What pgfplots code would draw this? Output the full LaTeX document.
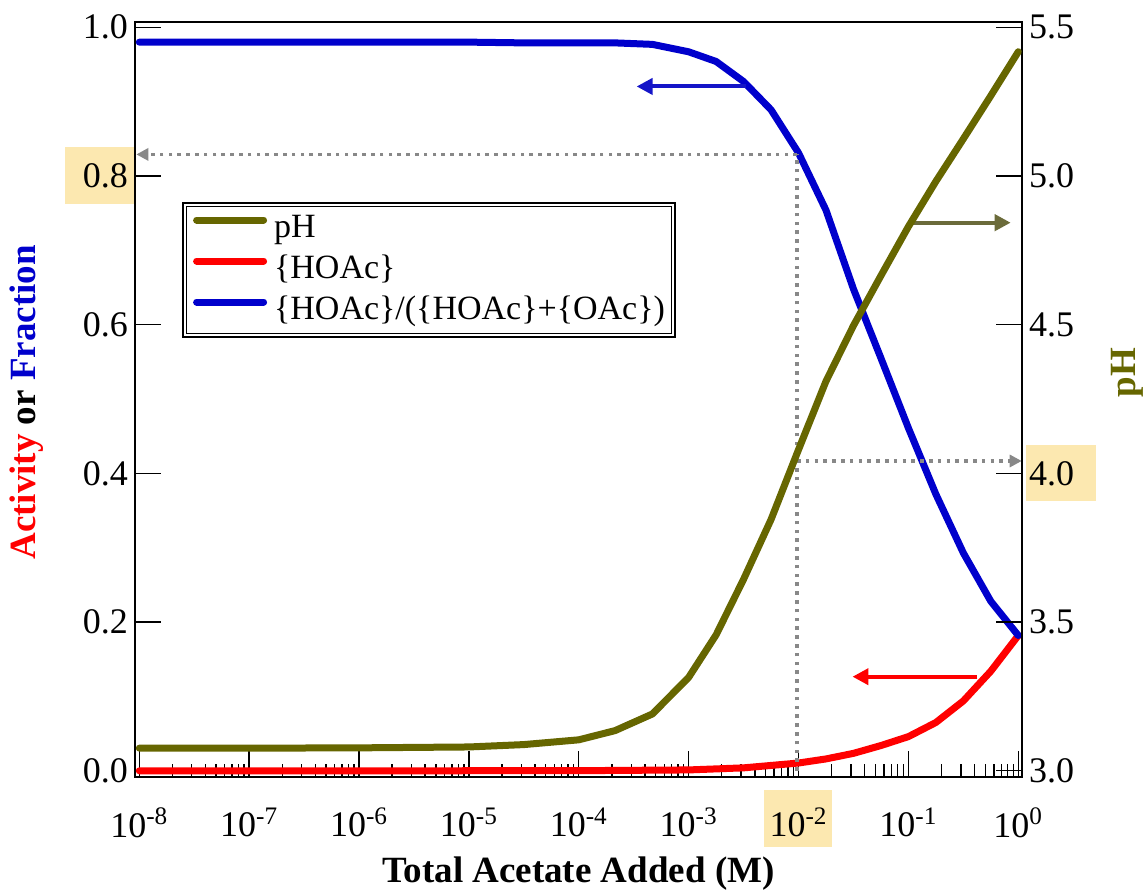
\documentclass[border=0pt]{standalone}
\usepackage{fontspec}
\setmainfont{Liberation Serif}
\usepackage{pgfplots}
\pgfplotsset{compat=1.18}
\usetikzlibrary{arrows.meta}
\definecolor{phol}{HTML}{666600}
\definecolor{frblue}{HTML}{0000CC}
\definecolor{hired}{HTML}{FF0000}
\definecolor{hl}{HTML}{FCE8B0}
\definecolor{dotgray}{HTML}{888888}
\definecolor{arrol}{HTML}{6B6B3A}
\definecolor{arrbl}{HTML}{1515C8}
\tikzset{dc/.style={line width=3.5pt, line cap=round, line join=round},
  dotln/.style={dotgray, line width=1.8pt, dash pattern=on 1.8pt off 2.6pt}}

\begin{document}
\begin{tikzpicture}
\path[use as bounding box] (-67.5pt,-58.15pt) rectangle (504.5pt,388.35pt);
% highlight boxes behind labels
\fill[hl] (-35pt,286.35pt) rectangle (-0.5pt,314.85pt);
\fill[hl] (445.5pt,137.85pt) rectangle (480.5pt,165.85pt);
\fill[hl] (314.5pt,-35.15pt) rectangle (348.5pt,-6.65pt);

\begin{axis}[
  scale only axis, width=443.5pt, height=377.5pt, at={(0pt,0pt)}, anchor=south west,
  xmode=log, xmin=9.14e-9, xmax=1.081,
  tick align=inside, major tick length=13pt, minor tick length=6.5pt,
  every tick/.style={black, line width=0.7pt},
  axis line style={line width=0.9pt},
  tick label style={font=\fontsize{18}{20}\selectfont},
  xticklabel style={yshift=-12pt},
  ymin=-0.0079, ymax=1.0075,
  ytick={0,0.2,0.4,0.6,0.8,1}, yticklabels={0.0,0.2,0.4,0.6,0.8,1.0},
  ytick pos=left, xtick pos=left,
  xtick={1e-8,1e-7,1e-6,1e-5,1e-4,1e-3,1e-2,1e-1,1},
  xticklabels={10\textsuperscript{-8},10\textsuperscript{-7},10\textsuperscript{-6},10\textsuperscript{-5},10\textsuperscript{-4},10\textsuperscript{-3},10\textsuperscript{-2},10\textsuperscript{-1},10\textsuperscript{0}},
  minor xtick={2e-8,3e-8,4e-8,5e-8,6e-8,7e-8,8e-8,9e-8,
               2e-7,3e-7,4e-7,5e-7,6e-7,7e-7,8e-7,9e-7,
               2e-6,3e-6,4e-6,5e-6,6e-6,7e-6,8e-6,9e-6,
               2e-5,3e-5,4e-5,5e-5,6e-5,7e-5,8e-5,9e-5,
               2e-4,3e-4,4e-4,5e-4,6e-4,7e-4,8e-4,9e-4,
               2e-3,3e-3,4e-3,5e-3,6e-3,7e-3,8e-3,9e-3,
               2e-2,3e-2,4e-2,5e-2,6e-2,7e-2,8e-2,9e-2,
               2e-1,3e-1,4e-1,5e-1,6e-1,7e-1,8e-1,9e-1},
  xlabel={Total Acetate Added (M)},
  xlabel style={font=\fontsize{18.5}{20}\selectfont\bfseries, at={(axis description cs:0.5,-0.128)}, anchor=center},
  ylabel={\textcolor{hired}{Activity} or \textcolor{frblue}{Fraction}},
  ylabel style={font=\fontsize{18.5}{20}\selectfont\bfseries, at={(axis description cs:-0.1218,0.4956)}, anchor=center},
]
\addplot[dc, hired, no markers] coordinates {
(1e-8,0)(1e-6,0.00002)(1e-4,0.0002)(1e-3,0.0012)(3.162e-3,0.004)(1e-2,0.0105)(1.778e-2,0.016)
(3.162e-2,0.0235)(5.623e-2,0.034)(0.1,0.046)(0.1778,0.065)(0.3162,0.094)(0.5623,0.134)(1,0.182)};
\addplot[dc, frblue, no markers] coordinates {
(1e-8,0.980)(1e-7,0.980)(1e-6,0.980)(1e-5,0.980)(3.162e-5,0.979)(1e-4,0.979)(2.14e-4,0.979)
(4.68e-4,0.977)(1e-3,0.967)(1.778e-3,0.954)(3.162e-3,0.927)(5.623e-3,0.889)(1e-2,0.831)
(1.778e-2,0.754)(3.162e-2,0.648)(5.623e-2,0.555)(0.1,0.461)(0.1778,0.372)(0.3162,0.293)
(0.5623,0.228)(1,0.182)};
% annotations
\draw[dotln] (axis cs:0.0097,0.0) -- (axis cs:0.0097,0.829);
\draw[dotln, -{Triangle[length=6pt,width=6pt]}]
  (axis cs:0.0097,0.829) -- (axis cs:9.4e-9,0.829);
\draw[dotln, -{Triangle[length=6pt,width=6pt]}]
  (axis cs:0.0097,0.4167) -- (axis cs:1.075,0.4167);
\draw[arrbl, line width=2pt, -{Triangle[length=8pt,width=8pt]}]
  (axis cs:3.33e-3,0.9204) -- (axis cs:3.36e-4,0.9204);
\draw[hired, line width=2pt, -{Triangle[length=8pt,width=8pt]}]
  (axis cs:0.4236,0.1266) -- (axis cs:0.03097,0.1266);
\draw[arrol, line width=2pt, -{Triangle[length=8pt,width=8pt]}]
  (axis cs:0.1052,0.7372) -- (axis cs:0.853,0.7372);
\end{axis}

\begin{axis}[
  scale only axis, width=443.5pt, height=377.5pt, at={(0pt,0pt)}, anchor=south west,
  xmode=log, xmin=9.14e-9, xmax=1.081,
  tick align=inside, major tick length=13pt,
  every tick/.style={black, line width=0.7pt},
  axis line style={line width=0.9pt},
  tick label style={font=\fontsize{18}{20}\selectfont},
  ymin=2.98, ymax=5.519,
  axis y line*=right, axis x line=none,
  ytick={3,3.5,4,4.5,5,5.5}, yticklabels={3.0,3.5,4.0,4.5,5.0,5.5},
  ylabel={pH},
  ylabel style={font=\fontsize{18.5}{20}\selectfont\bfseries, text=phol, at={(axis description cs:1.1184,0.535)}, anchor=center},
  legend style={at={(axis description cs:0.3315,0.6711)}, anchor=center, draw=none, fill=none,
    font=\fontsize{17}{19}\selectfont, inner sep=0pt,
    nodes={inner sep=0pt, text height=12pt, text depth=3.5pt}, row sep=5pt},
  legend cell align=left,
  legend image code/.code={\draw[#1, line width=3.5pt, line cap=round] (0pt,4.5pt) -- (33.5pt,4.5pt); \path (37pt,4.5pt);},
]
\addplot[dc, phol, no markers] coordinates {
(1e-8,3.076)(1e-7,3.076)(1e-6,3.077)(1e-5,3.080)(3.162e-5,3.088)(1e-4,3.104)(2.14e-4,3.135)
(4.68e-4,3.191)(1e-3,3.314)(1.778e-3,3.457)(3.162e-3,3.644)(5.623e-3,3.845)(1e-2,4.08)
(1.778e-2,4.31)(3.162e-2,4.497)(5.623e-2,4.665)(0.1,4.83)(0.1778,4.982)(0.3162,5.125)
(0.5623,5.27)(1,5.418)};
\addlegendimage{hired}
\addlegendimage{frblue}
\legend{pH,\{HOAc\},\{HOAc\}/(\{HOAc\}+\{OAc\})}
\end{axis}

% legend double border
\draw[line width=0.6pt] (24pt,219.85pt) rectangle (270pt,286.85pt);
\draw[line width=0.6pt] (25.9pt,221.75pt) rectangle (268.1pt,284.95pt);
\end{tikzpicture}
\end{document}
